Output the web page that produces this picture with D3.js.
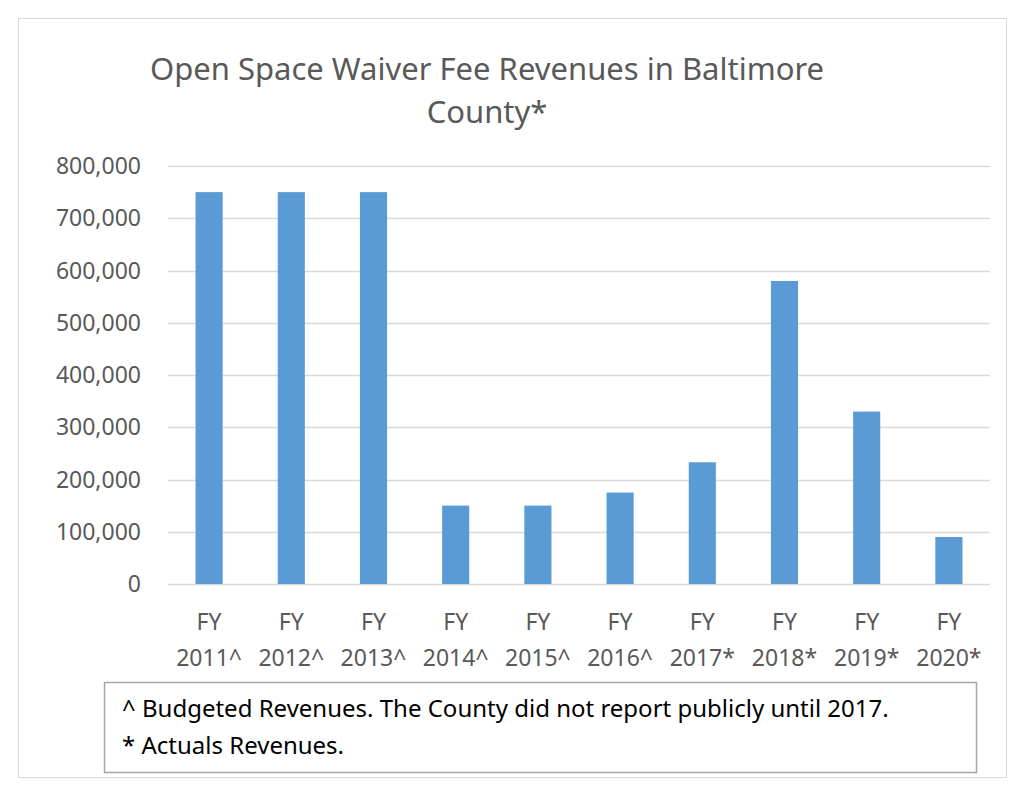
<!DOCTYPE html>
<html><head><meta charset="utf-8">
<script src="https://d3js.org/d3.v7.min.js"></script>
<style>body{margin:0;background:#fff;font-family:"Noto Sans",sans-serif;}</style>
</head><body><div id="chart"></div>
<script>
const years = ["2011^", "2012^", "2013^", "2014^", "2015^", "2016^", "2017*", "2018*", "2019*", "2020*"];
const revenues = [750000, 750000, 750000, 150000, 150000, 175000, 233000, 580000, 330000, 90000];
const yTicks = [0, 100000, 200000, 300000, 400000, 500000, 600000, 700000, 800000];
const notes = ["^ Budgeted Revenues. The County did not report publicly until 2017.", "* Actuals Revenues."];

const width = 1024, height = 796;
const margin = { top: 166, right: 34, bottom: 212, left: 168 };
const svg = d3.select("#chart").append("svg").attr("width", width).attr("height", height);

svg.append("rect").attr("x", 18.5).attr("y", 18.5).attr("width", 988).attr("height", 759)
    .attr("fill", "#fff").attr("stroke", "#d9d9d9");

const x = d3.scaleBand().domain(years).range([margin.left, width - margin.right])
    .paddingInner(0.67).paddingOuter(0.335);
const y = d3.scaleLinear().domain([0, 800000]).range([height - margin.bottom, margin.top]);

svg.append("g").selectAll("line").data(yTicks).enter().append("line")
    .attr("x1", margin.left).attr("x2", width - margin.right)
    .attr("y1", d => Math.round(y(d)) + 0.5).attr("y2", d => Math.round(y(d)) + 0.5)
    .attr("stroke", "#d9d9d9").attr("stroke-width", 1.5);

svg.append("g").selectAll("text").data(yTicks).enter().append("text")
    .attr("x", 141).attr("y", d => y(d)).attr("dy", "0.35em").attr("text-anchor", "end")
    .attr("fill", "#595959").style("font-size", "23px").text(d => d3.format(",")(d));

svg.append("g").selectAll("rect").data(revenues).enter().append("rect")
    .attr("x", (d, i) => x(years[i])).attr("width", x.bandwidth())
    .attr("y", d => y(d)).attr("height", d => y(0) - y(d)).attr("fill", "#5b9bd5");

const xl = svg.append("g").selectAll("text").data(years).enter().append("text")
    .attr("text-anchor", "middle").attr("fill", "#595959").style("font-size", "23px");
xl.append("tspan").attr("x", d => x(d) + x.bandwidth() / 2).attr("y", 630).text("FY");
xl.append("tspan").attr("x", d => x(d) + x.bandwidth() / 2).attr("y", 666).text(d => d);

svg.append("text").attr("x", 487).attr("y", 80).attr("text-anchor", "middle")
    .attr("fill", "#595959").style("font-size", "31px").text("Open Space Waiver Fee Revenues in Baltimore");
svg.append("text").attr("x", 487).attr("y", 123).attr("text-anchor", "middle")
    .attr("fill", "#595959").style("font-size", "31px").text("County*");

svg.append("rect").attr("x", 104.5).attr("y", 682.5).attr("width", 872).attr("height", 90)
    .attr("fill", "#fff").attr("stroke", "#a6a6a6").attr("stroke-width", 1.5);
svg.append("g").selectAll("text").data(notes).enter().append("text")
    .attr("x", 122).attr("y", (d, i) => 717 + i * 37).attr("fill", "#000")
    .style("font-size", "24px").text(d => d);
</script></body></html>
